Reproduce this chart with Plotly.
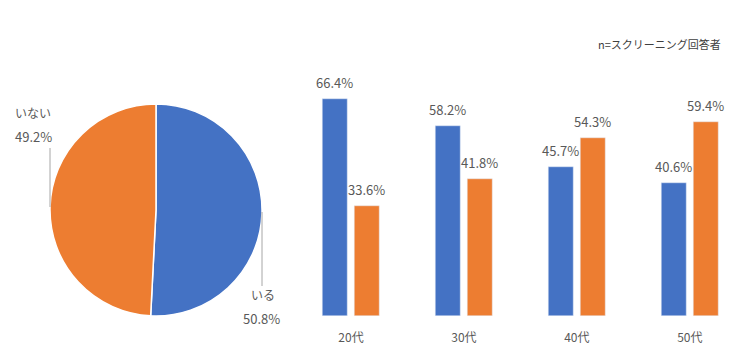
import plotly.graph_objects as go

pie_labels = ["いる", "いない"]
pie_values = [50.8, 49.2]
pie_text = ["50.8%", "49.2%"]

ages = ["20代", "30代", "40代", "50代"]
yes_vals = [66.4, 58.2, 45.7, 40.6]
no_vals = [33.6, 41.8, 54.3, 59.4]

BLUE = "#4472C4"
ORANGE = "#ED7D31"
GRAY = "#595959"
FONT = "Noto Sans CJK JP"
W, H = 740, 363
OFF = 8  # page body margin

def px_x(p):
    return (p - OFF) / W

def px_y(p):
    return 1 - (p - OFF) / H

fig = go.Figure()

fig.add_trace(go.Pie(
    labels=pie_labels, values=pie_values, sort=False, direction="clockwise",
    rotation=0, marker=dict(colors=[BLUE, ORANGE], line=dict(color="white", width=1.5)),
    textinfo="none", hoverinfo="label+percent", showlegend=False,
    domain=dict(x=[px_x(50), px_x(262)], y=[px_y(316), px_y(104)]),
))

bw = 0.221
fig.add_trace(go.Bar(x=ages, y=yes_vals, marker_color=BLUE, width=bw, offset=-0.252,
                     showlegend=False, xaxis="x", yaxis="y"))
fig.add_trace(go.Bar(x=ages, y=no_vals, marker_color=ORANGE, width=bw, offset=0.031,
                     showlegend=False, xaxis="x", yaxis="y"))

PCT_FONT = dict(size=13, color=GRAY, family=FONT)
annotations = []
for i, (a, b) in enumerate(zip(yes_vals, no_vals)):
    annotations.append(dict(x=i - 0.252 + bw / 2, y=a, xref="x", yref="y", text=f"{a:.1f}%",
                            showarrow=False, xanchor="center", yanchor="bottom", yshift=5,
                            font=PCT_FONT))
    annotations.append(dict(x=i + 0.031 + bw / 2, y=b, xref="x", yref="y", text=f"{b:.1f}%",
                            showarrow=False, xanchor="center", yanchor="bottom", yshift=5,
                            font=PCT_FONT))

# pie labels
pie_label_pos = [((263, 294), (261, 318)), ((33, 112), (33, 136))]
for (lbl, txt, ((lx, ly), (tx, ty))) in zip(pie_labels, pie_text, pie_label_pos):
    annotations.append(dict(x=px_x(lx), y=px_y(ly), xref="paper", yref="paper", text=lbl,
                            showarrow=False, xanchor="center", yanchor="middle",
                            font=dict(size=12, color=GRAY, family=FONT)))
    annotations.append(dict(x=px_x(tx), y=px_y(ty), xref="paper", yref="paper", text=txt,
                            showarrow=False, xanchor="center", yanchor="middle",
                            font=PCT_FONT))

annotations.append(dict(x=px_x(723), y=px_y(44), xref="paper", yref="paper",
                        text="n=スクリーニング回答者", showarrow=False, xanchor="right",
                        yanchor="middle", font=dict(size=11, color="#404040", family=FONT)))

shapes = [
    dict(type="line", xref="paper", yref="paper", x0=px_x(262), x1=px_x(262),
         y0=px_y(212), y1=px_y(286), line=dict(color="#A6A6A6", width=1)),
    dict(type="line", xref="paper", yref="paper", x0=px_x(50), x1=px_x(50),
         y0=px_y(148), y1=px_y(207), line=dict(color="#A6A6A6", width=1)),
]

fig.update_layout(
    width=W, height=H, margin=dict(l=0, r=0, t=0, b=0),
    paper_bgcolor="white", plot_bgcolor="white",
    font=dict(family=FONT, color=GRAY, size=12),
    xaxis=dict(domain=[px_x(294.5), px_x(735)], range=[-0.5, 3.4], type="category",
               showgrid=False, showline=False, zeroline=False, ticks="",
               tickfont=dict(size=12, color=GRAY, family=FONT), ticklabelstandoff=13),
    yaxis=dict(domain=[px_y(316), px_y(87)], range=[0, 70], visible=False),
    annotations=annotations, shapes=shapes,
    bargap=0, barmode="overlay",
)

fig.write_html("out.html")
